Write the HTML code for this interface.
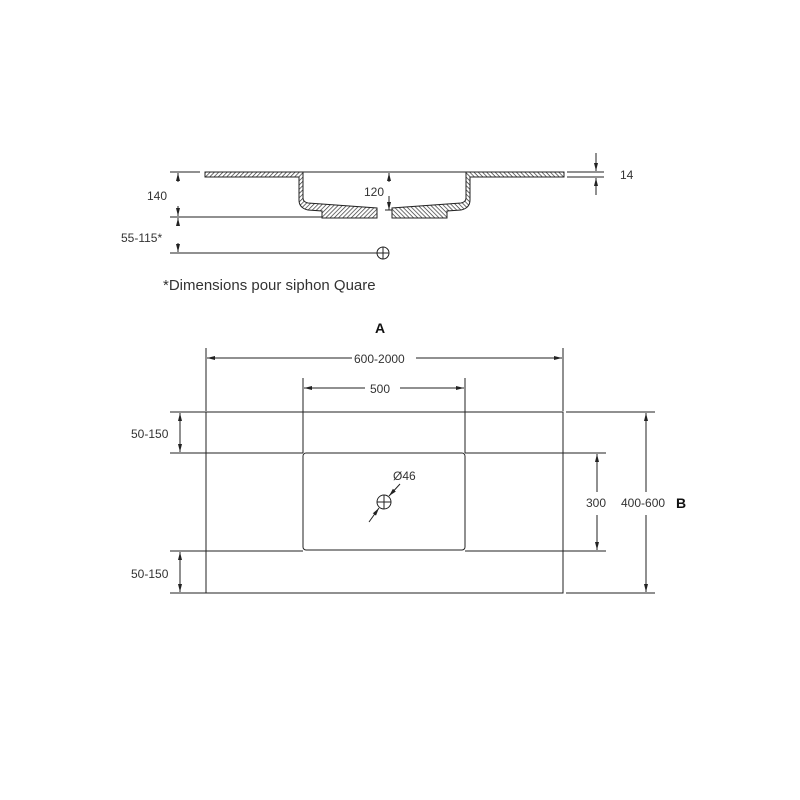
<!DOCTYPE html>
<html><head><style>html,body{margin:0;padding:0;background:#fff}svg{display:block}</style></head>
<body>
<svg width="800" height="800" viewBox="0 0 800 800" xmlns="http://www.w3.org/2000/svg" font-family="Liberation Sans, sans-serif">
<defs>
<pattern id="h" patternUnits="userSpaceOnUse" width="3" height="3" patternTransform="rotate(45)">
<rect width="3" height="3" fill="#fff"/><line x1="0" y1="0" x2="0" y2="3" stroke="#333" stroke-width="1.4"/></pattern>
<marker id="a" markerWidth="8" markerHeight="6" refX="8" refY="3" orient="auto" markerUnits="userSpaceOnUse"><path d="M0,1 L8,3 L0,5z" fill="#222"/></marker>
</defs>
<g stroke="#222" stroke-width="1" fill="none">
<!-- section -->
<path id="sh" d="M205,172 H303 V198 Q303,202 308,203 L377,208 V218 H322 V211 L308,210 Q299,208 299,200 V177 H205 Z" fill="url(#h)"/>
<use href="#sh" transform="translate(769,0) scale(-1,1)"/>
<line x1="303" y1="172" x2="466" y2="172"/>
<line x1="170" y1="172" x2="200" y2="172"/>
<line x1="170" y1="217" x2="322" y2="217"/>
<line x1="170" y1="253" x2="378" y2="253"/>
<line x1="178" y1="182" x2="178" y2="173" marker-end="url(#a)"/>
<line x1="178" y1="206" x2="178" y2="216" marker-end="url(#a)"/>
<line x1="178" y1="226" x2="178" y2="218" marker-end="url(#a)"/>
<line x1="178" y1="243" x2="178" y2="252" marker-end="url(#a)"/>
<line x1="389" y1="182" x2="389" y2="173" marker-end="url(#a)"/>
<line x1="389" y1="196" x2="389" y2="210" marker-end="url(#a)"/>
<line x1="385" y1="210" x2="392" y2="210"/>
<circle cx="383" cy="253" r="6"/>
<line x1="377" y1="253" x2="389" y2="253"/><line x1="383" y1="247" x2="383" y2="259"/>
<line x1="567" y1="172" x2="604" y2="172"/><line x1="567" y1="177" x2="604" y2="177"/>
<line x1="596" y1="153" x2="596" y2="171" marker-end="url(#a)"/>
<line x1="596" y1="195" x2="596" y2="178" marker-end="url(#a)"/>
<!-- plan -->
<rect x="206" y="412" width="357" height="181"/>
<rect x="303" y="453" width="162" height="97" rx="3"/>
<line x1="206" y1="348" x2="206" y2="411"/><line x1="563" y1="348" x2="563" y2="411"/>
<line x1="303" y1="378" x2="303" y2="453"/><line x1="465" y1="378" x2="465" y2="453"/>
<line x1="170" y1="412" x2="206" y2="412"/><line x1="170" y1="593" x2="206" y2="593"/>
<line x1="170" y1="453" x2="303" y2="453"/><line x1="170" y1="551" x2="303" y2="551"/>
<line x1="465" y1="453" x2="606" y2="453"/><line x1="465" y1="551" x2="606" y2="551"/>
<line x1="566" y1="412" x2="655" y2="412"/><line x1="566" y1="593" x2="655" y2="593"/>
<line x1="352" y1="358" x2="207" y2="358" marker-end="url(#a)"/>
<line x1="416" y1="358" x2="562" y2="358" marker-end="url(#a)"/>
<line x1="365" y1="388" x2="304" y2="388" marker-end="url(#a)"/>
<line x1="400" y1="388" x2="464" y2="388" marker-end="url(#a)"/>
<line x1="180" y1="433" x2="180" y2="413" marker-end="url(#a)"/>
<line x1="180" y1="433" x2="180" y2="452" marker-end="url(#a)"/>
<line x1="180" y1="572" x2="180" y2="552" marker-end="url(#a)"/>
<line x1="180" y1="572" x2="180" y2="592" marker-end="url(#a)"/>
<line x1="597" y1="492" x2="597" y2="454" marker-end="url(#a)"/>
<line x1="597" y1="515" x2="597" y2="550" marker-end="url(#a)"/>
<line x1="646" y1="492" x2="646" y2="413" marker-end="url(#a)"/>
<line x1="646" y1="515" x2="646" y2="592" marker-end="url(#a)"/>
<circle cx="384" cy="502" r="7"/>
<line x1="377" y1="502" x2="391" y2="502"/><line x1="384" y1="495" x2="384" y2="509"/>
<line x1="400" y1="484" x2="389" y2="496" marker-end="url(#a)"/>
<line x1="369" y1="522" x2="379" y2="508" marker-end="url(#a)"/>
</g>
<g fill="#333" font-size="12">
<text x="147" y="200">140</text>
<text x="364" y="196">120</text>
<text x="620" y="179">14</text>
<text x="121" y="242">55-115*</text>
<text x="163" y="290" font-size="15">*Dimensions pour siphon Quare</text>
<text x="354" y="363">600-2000</text>
<text x="370" y="393">500</text>
<text x="131" y="438">50-150</text>
<text x="131" y="578">50-150</text>
<text x="586" y="507">300</text>
<text x="621" y="507">400-600</text>
<text x="393" y="480">Ø46</text>
</g>
<text x="375" y="333" font-size="14" font-weight="bold" fill="#111">A</text>
<text x="676" y="508" font-size="14" font-weight="bold" fill="#111">B</text>
</svg>
</body></html>
